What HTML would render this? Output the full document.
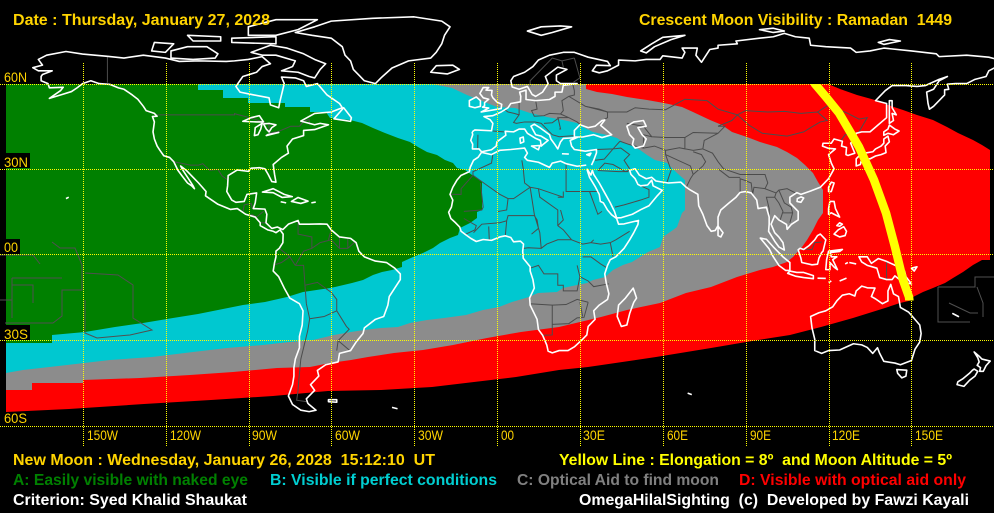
<!DOCTYPE html>
<html><head><meta charset="utf-8">
<style>
html,body{margin:0;padding:0;background:#000;width:994px;height:513px;overflow:hidden}
svg{display:block}
.t{font-family:"Liberation Sans",Arial,sans-serif;font-weight:bold;font-size:16px;white-space:pre}
.l{font-family:"Liberation Sans",Arial,sans-serif;font-size:14px;fill:#FFD400;white-space:pre}
</style></head><body>
<svg width="994" height="513" viewBox="0 0 994 513" xmlns="http://www.w3.org/2000/svg">
<defs>
<clipPath id="yc"><rect x="0" y="84" width="994" height="216.5"/></clipPath>
</defs>
<rect width="994" height="513" fill="#000"/>

<!-- Zone D red -->
<polygon fill="#FF0000" points="6,84 828,84 840,89 857,95 875,100 888,105 903,110 917,115 933,120 947,127 958,133 973,140 982,145 990,150 990,260 982,260 973,265 963,272 953,278 945,283 933,288 923,292 913,297 913,300 900,303 885,308 853,318 821,327 790,335 758,340 711,348 656,357 588,367 559,370 516,377 474,382 432,387 381,390 328,391 273,396 211,400 144,404 69,409 6,412"/>
<!-- Zone C gray -->
<polygon fill="#8C8C8C" points="6,84 586,84 586,89 597,92 612,94 627,97 647,100 664,103 682,107 693,112 710,120 722,125 732,132 747,137 760,142 777,147 787,152 797,158 805,165 813,173 818,182 823,190 823,213 818,220 813,230 807,240 802,247 793,257 787,262 773,267 760,270 737,277 711,287 686,293 660,303 627,310 601,317 580,322 559,327 521,332 487,338 453,345 423,350 394,353 368,357 351,360 330,363 310,367 277,368 233,372 190,375 140,378 83,380 83,383 32,383 32,390 6,390"/>
<!-- Zone B cyan -->
<polygon fill="#00C8D0" points="6,84 432,84 452,88 467,95 487,103 497,107 515,108 530,113 547,117 563,120 577,123 583,127 593,132 607,135 617,138 623,142 630,145 640,150 647,155 655,160 667,163 677,173 685,180 685,210 682,213 677,227 673,230 663,237 660,247 648,252 640,257 632,262 623,265 613,270 605,277 593,280 587,283 577,285 563,288 557,292 538,293 529,297 512,302 499,307 483,310 466,315 444,318 427,320 410,323 398,327 381,328 364,330 351,332 334,335 313,340 290,342 263,345 227,348 193,352 152,357 110,360 67,365 23,370 6,373"/>
<!-- Zone A green -->
<polygon fill="#008000" points="6,84 198,84 198,90 223,90 223,98 248,98 248,103 285,103 285,107 310,107 310,112 326,112 330,118 350,120 362,123 373,128 385,133 398,138 410,142 418,147 427,152 437,155 445,160 453,163 457,168 465,170 482,182 482,210 477,212 477,218 470,223 460,228 458,235 450,238 440,243 433,248 423,253 413,257 402,262 402,267 392,270 382,272 373,275 363,280 352,283 335,287 330,288 303,292 287,297 265,302 243,305 218,310 198,314 173,318 143,323 115,327 85,332 52,335 52,343 6,343"/>

<!-- Pacific / misc dark gray lines (pixel space) -->
<g fill="none" stroke="#505050" stroke-width="1">
<path d="M0,255 L33,255 L40,264"/>
<path d="M52,242 L60,248 L75,248 L82,265 L82,290 L62,290 L62,316 L53,323 L5,323"/>
<path d="M85,273 L118,275 L133,285 L133,318 L152,330 L130,335 L97,338 L85,333 L85,300"/>
<path d="M12,278 L62,278 M12,285 L33,285 L33,303 M12,278 L12,318 M0,300 L12,300"/>
<path d="M938,287 L975,287 L975,277 L994,277 M938,287 L938,322 L970,322 M977,287 L983,303 L983,317 M949,303 L970,313 L978,313"/>
</g>

<!-- Country borders (lon/lat space) -->
<g transform="matrix(2.763 0 0 -2.84 497 254)" fill="none" stroke="#4C4C4C" stroke-width="1" vector-effect="non-scaling-stroke">
<path vector-effect="non-scaling-stroke" d="M-123,49 L-95,49 L-95,49.4 L-89.5,48 L-84.5,46.5 L-82.5,45.5 L-82.5,42.5 L-79,43.2 L-76.5,44.2 L-74.7,45 L-71.5,45 L-70,46.7 L-68,47.3 L-67.8,45.5 M-141,69.6 L-141,60.3 M-117,32.5 L-111,31.3 L-108,31.3 L-106.5,31.8 L-104,29.5 L-101,29.8 L-99.5,27.5 L-97.2,25.9 M-92,14.5 L-91.5,17.3 L-89,17.8 L-88.5,16 M-89,14 L-87,13 L-84.5,15 M-85.7,11 L-83.6,11"/>
<path vector-effect="non-scaling-stroke" d="M-73,-4 L-70,-4 L-69.5,-11 L-65,-10 L-60,-13.5 L-58,-16 L-58,-20 L-54.5,-25.5 L-53.5,-26.5 L-57.5,-30.5 L-53.5,-33.8 M-73,-4 L-70,1 L-67,2 L-64,4 L-60,5 L-57,2 L-54,2 L-51.5,4.2 M-69,-17.5 L-67.8,-22.8 L-68.5,-27 L-70,-33 L-71,-37 L-71.7,-44 L-72,-48 L-72.5,-51.5 L-69,-52 M-69.5,-11 L-69,-17.5 M-62.5,-22 L-58,-20 M-62.5,-22 L-67.8,-22.8 M-81,-4 L-78,-3 L-75,-1 L-73,-4 M-75,-1 L-78.8,2 M-72,11.8 L-72,7 L-67,6 L-67,2 M-60,8.5 L-61,5 M-57,6 L-57,2 M-54,5.5 L-54,2 M-57.5,-30.5 L-58,-34"/>
<path vector-effect="non-scaling-stroke" d="M-8.7,27.7 L-4.8,25 L1,21 L4,19.5 L6,19.5 L12,23.5 L15,23 L24,20 L24,22 M25,31.8 L25,22 L36.9,22 M-17,21 L-13,21 L-13,23 L-8.7,27.7 L-8.7,29 L-2,32 L-1.5,35 M-12,15 L-5.5,15.5 L-5,16.5 L-6,25 M4,19.5 L3.5,15.5 L0,14.9 M12,23.5 L13.5,14 L15.5,7.5 L16,2 M15,23 L15.5,20 L22,15.5 L22,10 L24,8.5 L27,5 L31,3.5 L34,4 L35,5 M24,20 L22,20 M33.5,22 L36.5,14 L38,15 M34,4 L37.5,3.5 L41,4 L43,5 L48,8 M42,-1 L41,4 M31,-1 L34,-1 L37.5,-3.5 L39.5,-4.7 M29,-4 L30,-8 L33,-9.5 L35,-11.5 L40.5,-10.5 M12,-5 L15,-4 L17,-7 L22,-7 L22,-11 L24,-11 L24,-13 L29,-13 L30,-8 M11.8,-17.5 L20,-18 L25,-17.8 L29,-16 L33,-17 M20,-18 L20,-22 L20,-24.8 L20,-28.5 L16.5,-28.6 M20,-24.8 L26,-24.5 L29,-22.5 L31.5,-22.3 L33,-17 M9.6,2 L11.3,2.2 L16,2 L18,3.5 L22,5 L27,5 M3,6.4 L3.5,11.7 L1,11 L-5.5,10.5 L-8.5,7.5 M-2.8,5 L-3,9.7 M-11.5,6.9 L-8,8.5 L-7.5,10 L-12,12.5 M3.5,11.7 L4,13.5 L13.5,13.5 L14.5,12 L15,9 L12.5,7 M22,10 L24,12 L23,15.5 M9,33 L9.5,30 L10,25 L12,23.5 M30,-17 L31,-22"/>
<path vector-effect="non-scaling-stroke" d="M35.5,33 L38.8,33.4 L42,37 L44.8,37.3 L48,35 L46,33 L48,30 M36,36.8 L42,37 L44.5,39.7 M36.5,29.4 L39,32 L42,31.5 L46.5,29 L48,29.5 M36.5,29.4 L44,29 L47.5,29 M42.7,16.5 L46,17.3 L48.5,18 L52,19 L55,20 L55,22.7 L52,24 M44.5,39.7 L48,38.5 L53,37.3 L57,38 L61,36.5 L61,35 L63,29.5 L61.5,25.2 M61,36.5 L66,37.4 L71,36.5 L74.5,37 M61,35 L70,31 L71,28 L70,26.5 L68.5,23.5 M66,37.4 L68,37 L68,41 M53,37.3 L53,42 L56,41.3 M71,36 L74,35 L75.5,32.5 L74.5,31 L71,28"/>
<path vector-effect="non-scaling-stroke" d="M28,41.7 L22.5,41.3 L20,42 L19.5,42.5 L16,46 L13.7,46.5 L10,46.5 L7,46 L6,46.3 L8,49 L6.2,49.5 L4,50 L2.5,51 M8,49 L8,53.5 M14,54 L14.5,51 L12.5,50.5 L13.5,48.5 L17,48.7 L19,49.5 L23,49.3 L24,50.5 L23.5,54 L26,55.5 L28,56 L28,57.5 L27.5,59.5 M23,49.3 L26,48 L29,46.5 L30,45.7 M26,48 L22.5,48 L20,46.2 L17,46 M22,48.3 L23,44 L22.5,44 M32,52 L37,51 L40,50 L40,48 L38,47 M26,55.5 L32,52 M2.5,43 L-1.5,43.3 M-6.9,42 L-7,37.2 M28,69 L30,62 L27.7,60.5 M23.5,68 L20,69 L15,64 L12,61 L12,59 M28,69 L23.5,68 L24,65.8"/>
<path vector-effect="non-scaling-stroke" d="M32,52 L40,50 L47,50 L50,51.5 L55,51 L61,50.8 L68,54.5 L76,54 L80,51 L87,49 L90,50.5 L98,50 L104,50.2 L110,49.5 L116,50 L120,52.5 L127,49.5 L131,47.5 L134,48 L131,43 L130.5,42.5 M87,49 L91,45.5 L96,42.5 L105,41.5 L111,43 L114,44.8 L117,46.5 L119.5,47 L116,50 M47,46 L53,45 L56,41.3 L61,41 L68,41 L71,42.8 L80,42.5 L82.5,45 L80,45 L85,47 L87,49 M74.5,37 L75,40 L80,42.5 M74.5,37 L78,35.5 L80,32.5 L82,30 L88,28 L92,28 L97,28 L98,25 L97,23 L101,21.5 L102,22.5 L105,23 L108,21.5 M101,21.5 L100.5,20 L97.5,20 L98.5,16 L98.5,13 M97,23 L93,23.5 L92.5,21 M88,21.7 L88,26.5 L89.5,26 L92,25 L92.5,21 M102,22.5 L104,18 L106.5,16.5 L107,14.5 L106,11 M100.5,20 L102,18 L103.5,15 L102.5,12 M107,14.5 L103.5,14.5 M130.5,42.5 L126,42 L124.5,40 M141,-2.6 L141,-9 M109.7,2 L114,1.5 L115,4 L117.5,4.2 M80,30 L84,27 L88,27"/>
</g>

<!-- Coastlines (lon/lat space) -->
<g transform="matrix(2.763 0 0 -2.84 497 254)" fill="none" stroke="#FFFFFF" stroke-width="1.6" stroke-linejoin="round">
<path vector-effect="non-scaling-stroke" d="M-166,68.5 L-163,70 L-156,71.3 L-150,70.4 L-141,69.6 L-135,69 L-128,70 L-120,69 L-115,67.8 L-108,68 L-98,67.8 L-95,68 L-90,68.5 L-85,69.5 L-82,67 L-85,66 L-87,64 L-92,62.5 L-94.5,59 L-93,57 L-88,56 L-82.5,55 L-82,52.5 L-79,51.5 L-78.5,54 L-77,60 L-78,62.3 L-73,62 L-70,61 L-69,59 L-65,60 L-61.5,56 L-57,53 L-56,51.5 L-60,50 L-66,49.5 L-71,46.8 L-66,45.5 L-64,46 L-61,45.5 L-66,43.8 L-70,43.5 L-70,41.7 L-74,40.5 L-76,38 L-75.5,35.5 L-78,34 L-81,31.5 L-80.5,28 L-80,25.3 L-81.5,25.5 L-82.8,28 L-84,30 L-86,30.4 L-89,30.2 L-90,29.1 L-94,29.6 L-97.3,27.6 L-97.5,24 L-97.8,22 L-96,19 L-94.5,18.2 L-91.5,18.5 L-90.5,21 L-87,21.5 L-87.5,18 L-88.2,16 L-84,15.8 L-83.3,14 L-83.6,11 L-81.5,9 L-79.5,9.5 L-77.5,8.6 L-75.5,10.5 L-72,11.8 L-71.5,10.5 L-68,10.5 L-64,10.6 L-61.5,10.5 L-60,8.5 L-57,6 L-53,5.5 L-51,4 L-50,1 L-48,-1 L-44,-2.5 L-40,-3 L-37,-5 L-35,-7 L-35,-9 L-37,-12 L-39,-15 L-39.5,-18 L-41,-22 L-44,-23 L-48,-26 L-48.5,-28 L-51,-31 L-53,-34 L-57,-35 L-57.5,-38 L-62,-39 L-65,-41 L-64.5,-43 L-67.5,-46 L-66,-48 L-69,-51 L-68.5,-52.5 L-68,-53 L-65.5,-55 L-68,-55.5 L-71,-55 L-74,-53 L-75.5,-50 L-74,-46 L-73.5,-43 L-73.5,-40 L-73,-37 L-71.5,-33 L-71.5,-29 L-70.5,-25 L-70.2,-20 L-71.5,-17.5 L-75,-15.5 L-77,-12 L-79,-8 L-81,-6 L-80.5,-3 L-80,-1 L-80,1 L-78.8,2 L-77.5,4 L-77.4,7 L-78.5,8.5 L-80,7.5 L-81,8 L-83,8.5 L-85.7,10 L-85.7,11 L-87.5,13 L-91,14 L-94,16 L-96.5,15.7 L-101,17.5 L-105.5,20.5 L-105.3,22 L-108,25 L-110,27 L-112.5,29.5 L-114.5,31 L-114,30 L-112,27 L-110,24 L-109.5,23 L-110.5,24 L-112,25 L-114,27.5 L-115.5,29.5 L-117,32.5 L-118.5,34 L-120.6,34.6 L-122,36.5 L-123,38 L-124,40.5 L-124.5,43 L-124,46.5 L-124.7,48.4 L-123,48.5 L-124,49.5 L-127,50.5 L-128,52 L-130,54.5 L-132,56 L-135,58 L-137,58.5 L-140,59.7 L-144,60 L-147,61 L-150,60 L-152,58.5 L-154,57.2 L-158,56 L-162,54.8 L-158,57.5 L-157,58.7 L-162,58.5 L-162.5,60 L-165,61 L-165,62.5 L-164.5,63.2 L-161,64.5 L-166,64.5 L-168,65.6 L-164.5,66.5 L-166,68.5 Z"/>
<path vector-effect="non-scaling-stroke" d="M-73,78 L-66,80 L-60,82 L-45,83 L-30,83.5 L-20,82 L-17,80 L-19,77 L-20,74 L-22,71 L-24,69 L-32,68 L-38,65.5 L-42,62 L-44,60 L-48,61 L-50,63 L-52,65 L-53,68 L-55,70 L-56,73 L-60,76 L-67,77 Z"/>
<path vector-effect="non-scaling-stroke" d="M-62,67 L-64,65 L-66,62 L-68,62.5 L-72,64 L-78,64.5 L-74,66 L-73,68 L-80,70 L-85,70 L-89,71 L-82,73.5 L-76,72.5 L-70,70.5 L-66,68.5 Z M-118,69 L-110,68.5 L-102,69 L-101,70.5 L-105,73 L-112,73 L-118,71.5 Z M-80,77 L-90,77 L-90,80 L-80,82.5 L-65,82.5 L-72,79 Z M-96,74.5 L-80,74 L-80,76.5 L-96,76 Z M-125,71.5 L-120,71 L-117,74 L-124,74.5 Z M-110,75 L-100,75 L-100,76.5 L-112,77 Z M-59,47.6 L-53,46.7 L-52.7,48 L-55.5,51.5 Z M-84.9,21.8 L-81,23 L-77,21 L-74.1,20.2 L-77.7,19.9 L-81,21.6 Z M-74.4,18.5 L-72,19.9 L-68.4,18.6 L-71,17.8 Z M-67.2,18 L-65.6,18.3 M-78.3,18.4 L-76.3,18 M-92,46.7 L-89,48 L-86,48.7 L-84.5,46.5 L-87,46.5 Z M-87.8,41.7 L-87.5,44.5 L-85,46 L-85.5,44 L-86.5,42 Z M-84.5,45.8 L-82.5,46 L-80,45.5 L-81.5,44.5 L-82.5,43 L-83.5,44 Z M-83.5,41.7 L-79,42.8 L-80.5,42.5 L-83,42 Z M-156,19.5 L-155,20 M-61,-51.3 L-58,-51.3 L-58,-52.2 L-61,-52 Z M-38,-54 L-36,-54.5 M69,-49 L70.5,-49.5"/>
<path vector-effect="non-scaling-stroke" d="M-9,43 L-8,43.7 L-2,43.4 L-1.5,46 L-2.5,47.3 L-4.7,48.4 L-1.5,48.7 L1.5,50 L4,51.5 L5,53 L8.5,53.6 L8.6,55.5 L8.2,57 L10.5,57.7 L10.5,56.3 L10.5,54.4 L14,54 L19,54.4 L21,55.5 L21,57 L23.5,57 L24,59.4 L29,60 L23,60 L21.5,61 L21.5,63 L25.3,65 L22,65.8 L17.5,62.5 L18.5,60 L16.5,57 L14,55.5 L12.7,56.2 L11,59 L8,58 L5.5,58.8 L5,61 L6,62.5 L10,64 L13,66 L15,68.3 L19,70 L24,71 L28,71 L31,70 L33,69.3 L40,67.8 L41,66.3 L36,66.5 L34.5,64.5 L37,63.8 L40,64.5 L44,66.5 L44,68.3 L50,68 L54,68.5 L59,68.5 L60,69.8 L67,69 L68,71 L67,72.5 L72.5,72.5 L72,70 L74,67.5 L77,72 L80,72.5 L80,73.5 L87,74 L86.5,75 L95,76 L100,76.5 L104,77.7 L108,76.5 L113,76 L113.5,73.5 L119,73 L128,72.5 L130,71 L135,71.5 L140,72.5 L150,71.5 L159,70.5 L160,69.5 L170,70 L178,69.3 L180,68.8 M180,65.5 L178,64.5 L177,62.5 L173,61.5 L170,60 L166,60 L163,59.8 L163.5,58 L162,57.8 L162,56 L158,52 L156.5,51 L156,53 L155.5,57 L158,58 L160,61 L163,62.5 L160,61.5 L155,59.3 L152,59 L148,59.3 L143,59.3 L140.5,57.5 L137,54 L141,53 L141,48 L138,45.5 L135,43 L132,43 L130,42.5 L129.5,40.5 L128,39 L129.5,35.5 L127,34.7 L126.3,35 L126.5,37.5 L124.7,38 L125,39.7 L122,40.5 L121,39 L118,39 L117.8,38 L120,37.2 L122.5,37 L120,35 L121,32 L122,30 L120,26.5 L117,23.5 L113.5,22.2 L110,21 L108.5,21.6 L106,20 L106,18 L109,15 L109,12 L106.5,10.4 L105,8.7 L104.8,10.4 L102,12 L100.5,13.5 L99.2,10.5 L100.5,7.5 L102,6 L103.5,4 L104,1.4 L102,2.5 L100.5,4.5 L98.3,8 L98.5,10.5 L98.5,13 L97.5,16.5 L94.5,16 L94,19 L92,21.5 L90,22 L88,21.7 L86.5,20 L84,18 L81,15.5 L80,13 L80,10 L79,8.3 L77.5,8 L76,10 L74.5,14 L73,17 L72.7,21 L70,22.5 L68.5,23.5 L66.5,25.3 L62,25 L57.5,25.7 L56,27 L54,26.5 L51.5,27.8 L50,30 L48,29.5 L48.5,28 L50,26.5 L51,24.5 L52,24 L54.5,24.3 L56,26 L56.5,24 L59.8,22.4 L58,20.5 L55,17 L52,15.6 L49,14 L45,12.8 L43.3,12.7 L42.5,15 L41,18 L39,21.5 L37,25 L35,28 L34.5,29.5 L34,27.8 L32.6,29.9 M34.2,31.3 L35,33 L36,35.6 L36,36.8 L32,36.2 L28,36.8 L27,38 L26.5,40 L29,41 L26,40.8 L24,40.7 L23,39.5 L22,37 L21,38.5 L19.5,40.5 L19,42 L15.5,44.5 L13.5,45.7 L12.3,45 L14,42 L16,41.5 L18.5,40 L16.6,38.5 L16,38 L15.7,40 L14,40.7 L11,42.5 L10,44 L8,44 L6,43 L3,43.2 L3.2,41.8 L0,39.5 L-0.3,38 L-2,36.7 L-5.6,36 L-6.5,37 L-8.9,37 L-8.8,38.7 L-9.5,40 L-8.8,42 L-9,43"/>
<path vector-effect="non-scaling-stroke" d="M32.5,30 L33.5,27 L35.5,23.8 L37,21 L37.4,18.5 L38.5,18 L40,15.5 L41.5,13.8 L43.3,12.5 L44,10.5 L46,10.6 L49,11.3 L51.2,11.8 L51,10.4 L49.5,7.5 L48,5 L46,2 L43,-1 L41,-2 L40,-4 L39,-7 L39.5,-10 L40.5,-14 L40,-16 L37,-18 L35,-20 L35.5,-23 L33,-25.5 L32.5,-28.5 L31,-30 L28,-32.7 L25.7,-34 L22.5,-34 L20,-34.8 L18.5,-34.2 L18,-32 L16.5,-28.6 L15,-26.6 L14.5,-23 L12,-18 L11.8,-15.5 L13.5,-12 L13,-9 L12,-6 L12,-4.5 L9.5,-1.5 L9.3,1 L9.6,3.5 L8.5,4.5 L6,4.3 L5,5.8 L3,6.4 L1,6 L-2,4.8 L-5,5.1 L-7.5,4.4 L-9.5,5.5 L-11.5,6.9 L-13,8 L-13.5,9.5 L-15,11 L-16.7,12.5 L-17.5,14.7 L-16.5,16.5 L-16,19 L-17,21 L-16,23.5 L-14.5,26 L-13,27.7 L-10,29 L-9.7,30.5 L-8.5,33 L-6.8,34.1 L-5.6,35.8 L-2,35 L1,36.5 L5,36.8 L10,37.3 L11,35.5 L10,34 L11,33 L15,32.3 L19,30.5 L20,32 L23,32.7 L25,31.8 L29,30.9 L32.3,31.3"/>
<path vector-effect="non-scaling-stroke" d="M49.3,-12 L50.5,-15.5 L49.5,-17 L48,-21 L47,-25 L45,-25.5 L43.5,-22 L44,-18 L46.5,-15.5 Z M-5.7,50 L1.5,51.2 L1.7,52.7 L0,53.5 L-1.5,55 L-2,56 L-1.8,57.6 L-4,57.7 L-3,58.6 L-5,58.6 L-6.2,56.5 L-5,55 L-3,54.5 L-4.5,53.3 L-4.5,52.2 L-5.2,51.7 L-3,51.4 Z M-6,52 L-6,54 L-7.5,55.3 L-10,54 L-10,52 L-8,51.5 Z M-24,64 L-22,66.3 L-16,66.5 L-13.6,65 L-18,63.4 L-22,63.8 Z M11,78.5 L16,80 L23,80.3 L27,80 L20,78 L16,77 Z M52,71.5 L56,74 L60,76.3 L68,77 L63,75.5 L57,73 L54,70.8 Z M80,9.8 L81.8,7.5 L81,6 L80,6.5 Z M8.5,39 L9.7,39.5 L9.5,41.2 L8.3,40.8 Z M12.5,38 L15.5,38.2 L15,36.7 Z M23.5,35.3 L26,35.2 M32.5,35 L34,35.5 L33.5,34.6 Z M47,45 L49.5,46.5 L53,47 L54,45 L51,44.5 L52.5,42 L54,40.5 L53,38 L50,37.3 L49,38.5 L49.5,40.5 L48,42 Z M28,41.2 L28,43.5 L30,45.5 L33,44.5 L35.5,45 L38,47 L39,47.2 L37.5,45.3 L41.5,42 L38,41 L35,42 L31,41.2 Z M95,79 L100,79.5 L104,78.5 L100,78 Z M138,74.5 L142,75.5 L146,75 L140,73.8 Z"/>
<path vector-effect="non-scaling-stroke" d="M130,31 L131.5,31.5 L132,33.5 L135,33.5 L137,34.5 L139,35 L140.8,35.7 L140.5,38 L142,39.5 L141.5,41.5 L140,40.5 L140,39 L139,38 L137,37 L136,36 L133,35.5 L131,34.5 L130,33.5 Z M140,41.8 L141.5,42.5 L143.5,42 L145.5,43.3 L144,44 L142,45.4 L141.5,44 L140,43 Z M142,46 L143.5,47 L143,49.5 L144.5,49 L143,51.5 L143,54 L142,54 L142,51 Z M120,22 L121,22 L122,25 L121,25.3 L120,23.5 Z M108.6,18.5 L110,18.2 L111,19.7 L110,20.1 L108.7,19.5 Z M120,14 L121,14.5 L122,14 L124,13 L122.5,16 L122,18.5 L120.5,18.5 L120,16 Z M122,7 L124,6 L126,6.5 L126.5,8 L125.5,9.6 L123.5,8.5 Z M123,10 L124,11 L125,10.5 L124,9.8 Z M109,1.5 L110,-1.5 L110.3,-3 L114,-3.8 L116,-3.6 L116.5,-1.5 L117.5,0.5 L118,1 L119,5 L117,7 L116,6.5 L115,5 L113,3 L111,1.6 L109.7,2 Z M95.3,5.6 L97.5,5.2 L100,2.5 L103.5,-1 L106,-3 L106,-5.8 L104.5,-5.8 L102,-4 L100,-1 L98.5,1.8 Z M105.2,-6.8 L106,-6 L108.5,-6.5 L111,-6.5 L114.5,-7.6 L114.5,-8.7 L111,-8.3 L108,-7.8 Z M116,-8.5 L119,-8.6 M120,-10 L121,-9.5 M124,-9.5 L126.5,-8.5 M119,-5.5 L120.5,-5.5 L120.5,-3 L122,-4.6 L123.2,-5.5 L121.5,-2 L123,-1 L121,-1 L120.6,0.5 L124,0.9 L125,1.6 L120,1 L119.3,-2 Z M127.5,-3 L130,-3.5 M126,-3.5 L127,-3 M131,-1 L134,-1 L135.5,-3.3 L138,-1.6 L141,-2.6 L145,-4.4 L146,-5.5 L147.5,-6 L148,-8 L150,-10.5 L147,-10 L144,-7.7 L143,-9 L141,-9 L138.5,-8.3 L137.5,-5 L134,-4 L132,-2.8 Z M150,-5 L152,-4.5 L151,-6 Z"/>
<path vector-effect="non-scaling-stroke" d="M113.5,-22 L114,-26 L115,-30 L115,-34 L117.5,-35 L120,-34 L124,-33.8 L129,-31.6 L132,-32 L134,-32.9 L136,-35 L137.7,-33 L138.5,-35 L140,-37.8 L144,-38.4 L146,-39 L150,-37.5 L151.3,-33.5 L153,-31 L153.5,-28 L153,-25 L150.8,-22.5 L149,-20.5 L146,-18.8 L145.3,-15 L143.5,-14 L142.5,-10.7 L141.5,-13 L141.5,-16.5 L139.5,-17.5 L137,-15.8 L135.5,-15 L136.8,-12 L134,-11.9 L132,-11.3 L130,-13 L129.5,-14.8 L127.5,-14 L125,-14.5 L123,-16.5 L121.5,-18.6 L119,-20 L116.5,-20.7 Z M144.7,-40.7 L148.3,-40.9 L148,-43 L146.5,-43.6 L145,-42 Z M172.7,-34.5 L174.5,-36 L175.5,-37 L178.5,-37.7 L177,-39.3 L176,-41.3 L174.7,-41.3 L175,-40 L173.8,-39.2 L174.5,-38 L174,-36.5 Z M172.7,-40.5 L174,-41.3 L173,-43 L171,-44.5 L169,-46.6 L166.5,-46 L166.8,-45 L168.5,-44 L171,-42 L172,-41 Z M165,-21 L167,-22 L166,-21.5 Z"/>
</g>

<!-- Yellow line -->
<g clip-path="url(#yc)">
<polyline fill="none" stroke="#FFFF00" stroke-width="8.5" stroke-linejoin="miter" points="813,78 815,84 826,97 839,113 859,147 874,180 886,213 895,247 903,280 909,297 910,306"/>
</g>

<!-- Grid -->
<g stroke="#FFFF00" stroke-width="1" stroke-dasharray="1 1" fill="none">
<path d="M83.5,63 V447 M166.5,63 V447 M249.5,63 V447 M331.5,63 V447 M414.5,63 V447 M497.5,63 V447 M580.5,63 V447 M663.5,63 V447 M746.5,63 V447 M829.5,63 V447 M911.5,63 V447"/>
<path d="M0,84.5 H994 M0,169.5 H994 M0,254.5 H994 M0,340.5 H994 M0,426.5 H994"/>
</g>

<!-- label boxes -->
<rect x="3" y="153" width="27" height="15" fill="#000"/>
<rect x="3" y="239" width="17" height="15" fill="#000"/>
<rect x="3" y="325" width="27" height="15" fill="#000"/>

<!-- Lat labels -->
<text class="l" x="4" y="82" textLength="23" lengthAdjust="spacingAndGlyphs">60N</text>
<text class="l" x="4" y="167" textLength="24" lengthAdjust="spacingAndGlyphs">30N</text>
<text class="l" x="4" y="252" textLength="14" lengthAdjust="spacingAndGlyphs">00</text>
<text class="l" x="4" y="339" textLength="24" lengthAdjust="spacingAndGlyphs">30S</text>
<text class="l" x="4" y="423" textLength="23" lengthAdjust="spacingAndGlyphs">60S</text>

<!-- Lon labels -->
<text class="l" x="87" y="440" textLength="31" lengthAdjust="spacingAndGlyphs">150W</text>
<text class="l" x="170" y="440" textLength="31" lengthAdjust="spacingAndGlyphs">120W</text>
<text class="l" x="252" y="440" textLength="25" lengthAdjust="spacingAndGlyphs">90W</text>
<text class="l" x="335" y="440" textLength="25" lengthAdjust="spacingAndGlyphs">60W</text>
<text class="l" x="418" y="440" textLength="25" lengthAdjust="spacingAndGlyphs">30W</text>
<text class="l" x="501" y="440" textLength="13" lengthAdjust="spacingAndGlyphs">00</text>
<text class="l" x="583" y="440" textLength="22" lengthAdjust="spacingAndGlyphs">30E</text>
<text class="l" x="667" y="440" textLength="21" lengthAdjust="spacingAndGlyphs">60E</text>
<text class="l" x="750" y="440" textLength="21" lengthAdjust="spacingAndGlyphs">90E</text>
<text class="l" x="832" y="440" textLength="28" lengthAdjust="spacingAndGlyphs">120E</text>
<text class="l" x="915" y="440" textLength="28" lengthAdjust="spacingAndGlyphs">150E</text>

<!-- Titles -->
<text class="t" x="13" y="25" fill="#FFD400" textLength="257" lengthAdjust="spacingAndGlyphs">Date : Thursday, January 27, 2028</text>
<text class="t" x="639" y="25" fill="#FFD400" textLength="313" lengthAdjust="spacingAndGlyphs">Crescent Moon Visibility : Ramadan  1449</text>

<text class="t" x="13" y="465" fill="#FFD400" textLength="422" lengthAdjust="spacingAndGlyphs">New Moon : Wednesday, January 26, 2028  15:12:10  UT</text>
<text class="t" x="559" y="465" fill="#FFFF00" textLength="393" lengthAdjust="spacingAndGlyphs">Yellow Line : Elongation = 8º  and Moon Altitude = 5º</text>

<text class="t" x="13" y="485" fill="#008000" textLength="235" lengthAdjust="spacingAndGlyphs">A: Easily visible with naked eye</text>
<text class="t" x="270" y="485" fill="#00CED1" textLength="227" lengthAdjust="spacingAndGlyphs">B: Visible if perfect conditions</text>
<text class="t" x="517" y="485" fill="#808080" textLength="202" lengthAdjust="spacingAndGlyphs">C: Optical Aid to find moon</text>
<text class="t" x="739" y="485" fill="#FF0000" textLength="227" lengthAdjust="spacingAndGlyphs">D: Visible with optical aid only</text>

<text class="t" x="13" y="505" fill="#FFFFFF" textLength="234" lengthAdjust="spacingAndGlyphs">Criterion: Syed Khalid Shaukat</text>
<text class="t" x="579" y="505" fill="#FFFFFF" textLength="390" lengthAdjust="spacingAndGlyphs">OmegaHilalSighting  (c)  Developed by Fawzi Kayali</text>
</svg>
</body></html>
